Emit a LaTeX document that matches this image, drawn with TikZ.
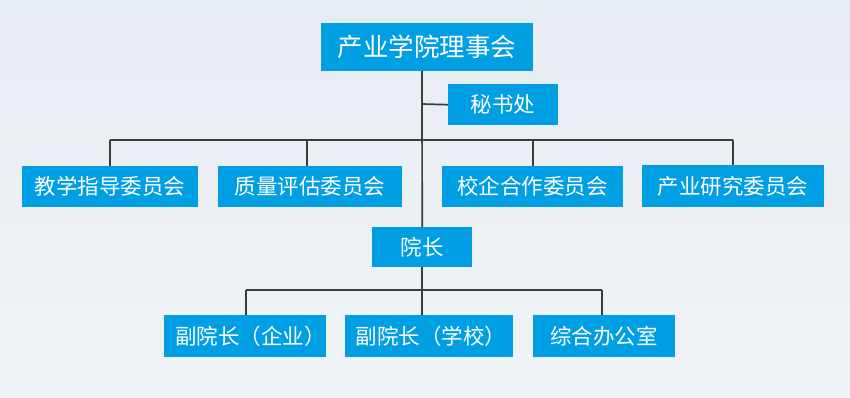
\documentclass[tikz,border=0pt]{standalone}
\usepackage{fontspec}
\setmainfont{Noto Sans CJK SC}
\definecolor{boxblue}{RGB}{0,159,227}
\definecolor{linegray}{RGB}{60,60,60}
\definecolor{bgtop}{RGB}{230,236,243}
\definecolor{bgbot}{RGB}{241,244,247}
\begin{document}
\begin{tikzpicture}[x=1pt,y=-1pt,
  orgbox/.style={fill=boxblue,draw=none,text=white,inner sep=0pt,anchor=north west},
  conn/.style={draw=linegray,line width=1.7pt},
  lbl/.style={font=\fontsize{21.5}{24}\selectfont}]
\shade[top color=bgtop,bottom color=bgbot,draw=none] (0,0) rectangle (850,397);
\useasboundingbox (0,0) rectangle (850,397);
% boxes
\node[orgbox,minimum width=212pt,minimum height=48pt,font=\fontsize{25.5}{28}\selectfont] (top) at (321,23) {产业学院理事会};
\node[orgbox,minimum width=110pt,minimum height=41pt,lbl] (sec) at (448,84) {秘书处};
\node[orgbox,minimum width=176pt,minimum height=41pt,lbl] (c1) at (22,166) {教学指导委员会};
\node[orgbox,minimum width=184pt,minimum height=41pt,lbl] (c2) at (218,166) {质量评估委员会};
\node[orgbox,minimum width=181pt,minimum height=41pt,lbl] (c3) at (442,166) {校企合作委员会};
\node[orgbox,minimum width=182pt,minimum height=42pt,lbl] (c4) at (642,165) {产业研究委员会};
\node[orgbox,minimum width=100pt,minimum height=40pt,lbl] (dean) at (372,227) {院长};
\node[orgbox,minimum width=162pt,minimum height=42pt,lbl] (v1) at (164,315) {\hspace*{11pt}副院长（企业）};
\node[orgbox,minimum width=168pt,minimum height=42pt,lbl] (v2) at (345,315) {\hspace*{4pt}副院长（学校）};
\node[orgbox,minimum width=142pt,minimum height=42pt,lbl] (v3) at (533,315) {综合办公室};
% coordinates
\coordinate (t0) at (422,71);
\coordinate (j1) at (422,104);
\coordinate (b1) at (110,140);
\coordinate (b2) at (307,140);
\coordinate (b3) at (533,140);
\coordinate (b4) at (733,140);
\coordinate (d1) at (246,290);
\coordinate (d3) at (602,290);
% connectors
\draw[conn] (t0) -- (dean.north);
\draw[conn] (j1) -- (sec.west);
\draw[conn] (b1) -- (b4);
\draw[conn] (b1) -- (b1 |- c1.north);
\draw[conn] (b2) -- (b2 |- c2.north);
\draw[conn] (b3) -- (b3 |- c3.north);
\draw[conn] (b4) -- (b4 |- c4.north);
\draw[conn] (dean.south) -- (v2.north -| dean.south);
\draw[conn] (d1) -- (d3);
\draw[conn] (d1) -- (d1 |- v1.north);
\draw[conn] (d3) -- (d3 |- v3.north);
\end{tikzpicture}
\end{document}
